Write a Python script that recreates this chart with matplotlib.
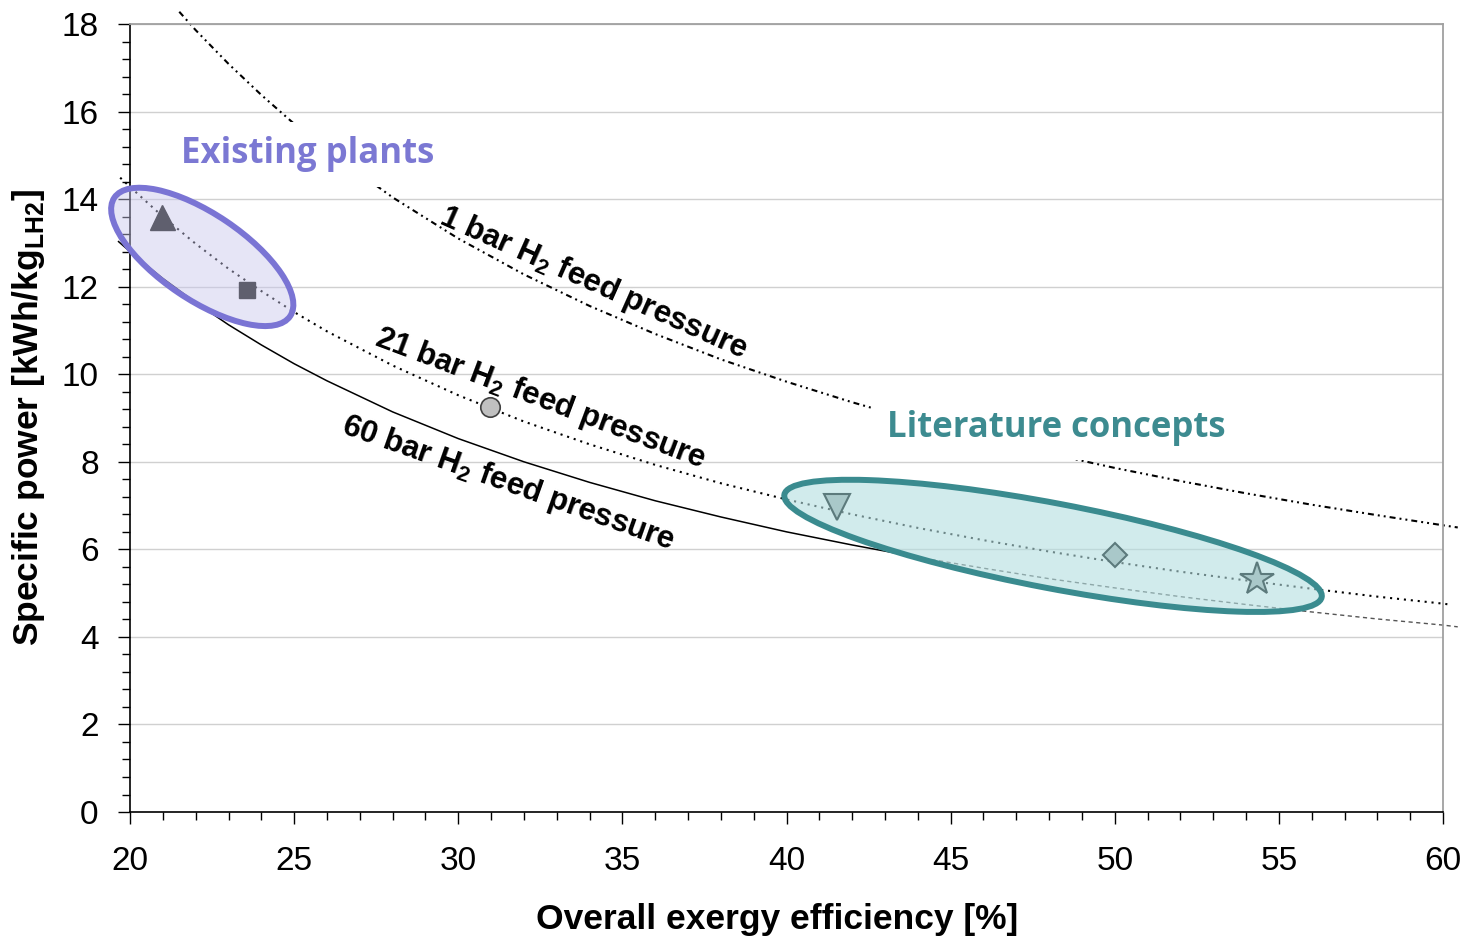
import matplotlib
matplotlib.use("Agg")
import matplotlib.pyplot as plt
from matplotlib.patches import Ellipse
from matplotlib.transforms import ScaledTranslation

plt.rcParams["font.family"] = ["Liberation Sans", "DejaVu Sans"]
plt.rcParams["mathtext.fontset"] = "custom"
plt.rcParams["mathtext.rm"] = "Liberation Sans"
plt.rcParams["mathtext.bf"] = "Liberation Sans:bold"
plt.rcParams["lines.scale_dashes"] = False

# ---- data ----
# 1 bar H2 feed pressure
eff_1bar = [21.5, 22, 23, 24, 25, 26, 28, 30, 32, 34, 36, 38, 40, 42, 44, 46, 48,
            50, 52, 54, 56, 58, 60, 60.45]
pow_1bar = [18.28, 17.86, 17.09, 16.38, 15.72, 15.12, 14.04, 13.10, 12.28, 11.56,
            10.92, 10.34, 9.83, 9.36, 8.93, 8.54, 8.19, 7.86, 7.56, 7.28, 7.02,
            6.78, 6.55, 6.50]

# 21 bar H2 feed pressure
eff_21bar = [19.7, 20, 21, 22, 23, 24, 25, 26, 28, 30, 32, 34, 36, 38, 40, 42, 44,
             46, 48, 50, 52, 54, 56, 58, 60, 60.2]
pow_21bar = [14.49, 14.28, 13.60, 12.98, 12.41, 11.90, 11.42, 10.98, 10.20, 9.52,
             8.92, 8.40, 7.93, 7.51, 7.14, 6.80, 6.49, 6.21, 5.95, 5.71, 5.49,
             5.29, 5.10, 4.92, 4.76, 4.74]

# 60 bar H2 feed pressure (solid part, then dashed part)
eff_60bar_a = [19.65, 20, 21, 22, 23, 24, 25, 26, 28, 30, 32, 34, 36, 38, 40, 42, 43.5]
pow_60bar_a = [13.03, 12.80, 12.19, 11.64, 11.13, 10.67, 10.24, 9.85, 9.14, 8.53,
               8.00, 7.53, 7.11, 6.74, 6.40, 6.10, 5.89]
eff_60bar_b = [43.5, 44, 46, 48, 50, 52, 54, 56, 58, 60, 60.45]
pow_60bar_b = [5.89, 5.82, 5.57, 5.33, 5.12, 4.92, 4.74, 4.57, 4.41, 4.27, 4.23]

# plants / concepts
existing_eff = [20.97, 23.55]
existing_pow = [13.60, 11.92]
existing_mk = ["^", "s"]

circle_eff, circle_pow = 30.97, 9.26

concept_eff = [41.55, 50.0, 54.32]
concept_pow = [6.96, 5.88, 5.32]
concept_mk = ["v", "D", "*"]

# ---- figure ----
fig = plt.figure(figsize=(14.66, 9.38), dpi=100)
ax = fig.add_axes([0.0887, 0.1343, 0.8956, 0.8401])

ax.plot(eff_1bar, pow_1bar, color="black", lw=1.5,
        dashes=(4.3, 2.9, 1.4, 2.9, 1.4, 2.9), clip_on=False, zorder=2)
ax.plot(eff_21bar, pow_21bar, color="black", lw=1.5,
        dashes=(1.5, 3.5), clip_on=False, zorder=2)
ax.plot(eff_60bar_a, pow_60bar_a, color="black", lw=1.1, clip_on=False, zorder=2)
ax.plot(eff_60bar_b, pow_60bar_b, color="#555555", lw=1.0,
        dashes=(3, 2.5), clip_on=False, zorder=2)


def add_ellipse(cx, cy, w_in, h_in, ang, fc, ec):
    tr = fig.dpi_scale_trans + ScaledTranslation(cx, cy, ax.transData)
    e = Ellipse((0, 0), w_in, h_in, angle=ang, transform=tr,
                facecolor=fc, edgecolor=ec, lw=4.3, zorder=3, clip_on=False)
    ax.add_patch(e)


add_ellipse(22.2, 12.68, 2.12, 0.86, -34, (0.79, 0.78, 0.93, 0.45), "#7a74d4")
add_ellipse(48.12, 6.08, 5.47, 0.85, -10.8, (0.70, 0.87, 0.88, 0.6), "#3a8b8f")

for x, y, m in zip(existing_eff, existing_pow, existing_mk):
    ax.plot(x, y, marker=m, ms=18 if m == "^" else 12, color="#5f5f6e",
            mec="#5f5f6e", zorder=5, clip_on=False)
ax.plot(circle_eff, circle_pow, marker="o", ms=14, mfc="#c0c0c0", mec="#404040",
        mew=1.2, zorder=5)
for x, y, m in zip(concept_eff, concept_pow, concept_mk):
    size = {"v": 18.5, "D": 12, "*": 25}[m]
    ax.plot(x, y, marker=m, ms=size, mfc="#a9c8c9", mec="#5c7a7c", mew=1.5, zorder=5)

# curve labels
ax.text(29.38, 13.45, "1 bar H$_\\mathbf{2}$ feed pressure", fontsize=22.5,
        fontweight="bold", rotation=-24, rotation_mode="anchor",
        ha="left", va="baseline", zorder=6)
ax.text(27.40, 10.67, "21 bar H$_\\mathbf{2}$ feed pressure", fontsize=22.5,
        fontweight="bold", rotation=-20.6, rotation_mode="anchor",
        ha="left", va="baseline", zorder=6)
ax.text(26.40, 8.66, "60 bar H$_\\mathbf{2}$ feed pressure", fontsize=22.5,
        fontweight="bold", rotation=-19.5, rotation_mode="anchor",
        ha="left", va="baseline", zorder=6)

box = dict(facecolor="white", edgecolor="none", boxstyle="square,pad=0.42")
ax.text(21.55, 14.82, "Existing plants", fontsize=25, fontweight="bold",
        family="Open Sans", color="#7b78d3", ha="left", va="baseline",
        bbox=box, zorder=2.5)
ax.text(43.05, 8.57, "Literature concepts", fontsize=25, fontweight="bold",
        family="Open Sans", color="#3d8b90", ha="left", va="baseline",
        bbox=box, zorder=2.5)

# axes
ax.set_xlim(20, 60)
ax.set_ylim(0, 18)
ax.set_xticks(range(20, 61, 5))
ax.set_xticks(range(20, 61, 1), minor=True)
ax.set_yticks(range(0, 19, 2))
ax.set_yticks([i * 0.4 for i in range(46)], minor=True)
ax.tick_params(which="major", direction="out", length=8.6, width=1,
               labelsize=24)
ax.tick_params(which="minor", direction="out", length=5.8, width=1)
ax.tick_params(axis="y", which="major", pad=14)
ax.tick_params(axis="x", which="major", pad=16)
ax.tick_params(top=False, right=False, which="both")

ax.grid(axis="y", color="#d0d0d0", lw=1)
ax.set_axisbelow(True)
for s in ["left", "bottom"]:
    ax.spines[s].set_color("black")
    ax.spines[s].set_linewidth(1.2)
for s in ["top", "right"]:
    ax.spines[s].set_color("#a0a0a0")
    ax.spines[s].set_linewidth(1.3)

ax.set_xlabel("Overall exergy efficiency [%]", fontsize=25.5, fontweight="bold")
ax.set_ylabel("Specific power [kWh/kg$_{\\mathbf{LH2}}$]", fontsize=25.5,
              fontweight="bold")
ax.xaxis.set_label_coords(0.493, -0.115)
ax.yaxis.set_label_coords(-0.063, 0.5)

fig.savefig("out.png", dpi=100)
